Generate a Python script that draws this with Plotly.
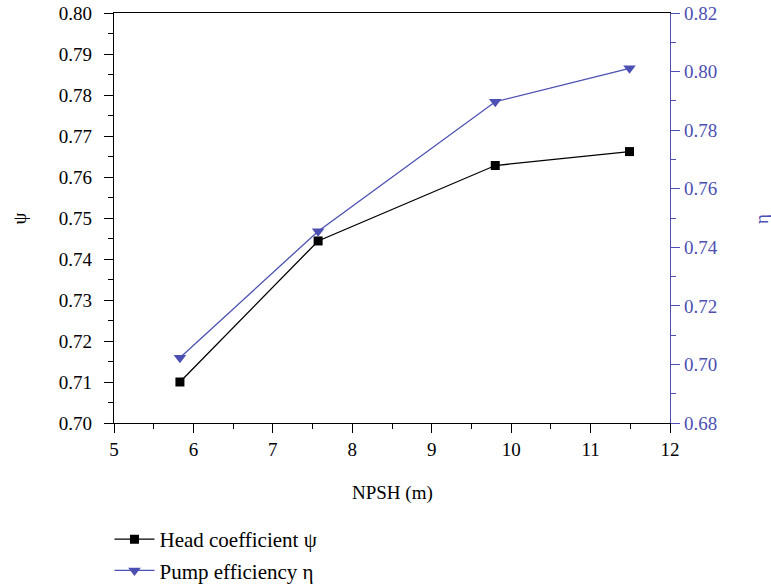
import plotly.graph_objects as go

npsh = [5.83, 7.57, 9.80, 11.49]
head_coeff = [0.7100, 0.7444, 0.7628, 0.7662]
pump_eff = [0.7023, 0.7455, 0.7897, 0.8011]

x_ticks = [5, 6, 7, 8, 9, 10, 11, 12]
left_ticks = [0.70, 0.71, 0.72, 0.73, 0.74, 0.75, 0.76, 0.77, 0.78, 0.79, 0.80]
right_ticks = [0.68, 0.70, 0.72, 0.74, 0.76, 0.78, 0.80, 0.82]

BLUE = "#4b50b2"
FONT = "Liberation Serif"
FS = 19

fig = go.Figure()
fig.add_trace(go.Scatter(
    x=npsh, y=head_coeff, mode="lines+markers", name="Head coefficient ψ",
    legendgroup="a",
    line=dict(color="black", width=1.3),
    marker=dict(symbol="square", size=9, color="black"),
))
fig.add_trace(go.Scatter(
    x=npsh, y=pump_eff, mode="lines+markers", name="Pump efficiency η",
    legendgroup="b",
    line=dict(color=BLUE, width=1.3),
    marker=dict(symbol="triangle-down", size=11, color=BLUE),
    yaxis="y2",
))

fig.update_layout(
    width=771, height=586,
    margin=dict(l=114, r=101, t=13, b=163, autoexpand=False),
    plot_bgcolor="white", paper_bgcolor="white",
    font=dict(family=FONT, size=FS, color="black"),
    showlegend=True,
    legend=dict(x=0.142, y=0.1143, xref="container", yref="container",
                xanchor="left", yanchor="top",
                font=dict(family=FONT, size=21), bgcolor="rgba(0,0,0,0)",
                tracegroupgap=1, itemwidth=40),
    xaxis=dict(
        range=[5, 12], tickvals=x_ticks, ticktext=[str(v) for v in x_ticks],
        showgrid=False, zeroline=False, ticklabeloverflow="allow",
        showline=True, linecolor="black", linewidth=1.3, mirror=True,
        ticks="outside", ticklen=9, tickwidth=1.3, tickcolor="black",
        minor=dict(ticks="outside", ticklen=5, dtick=0.5, tickcolor="black", tickwidth=1.3),
    ),
    yaxis=dict(
        range=[0.70, 0.80], tickvals=left_ticks, ticktext=[f"{v:.2f}" for v in left_ticks],
        showgrid=False, zeroline=False, ticklabeloverflow="allow",
        showline=True, linecolor="black", linewidth=1.3,
        ticks="outside", ticklen=9, tickwidth=1.3, tickcolor="black",
        ticklabelstandoff=8,
        minor=dict(ticks="outside", ticklen=5, dtick=0.005, tickcolor="black", tickwidth=1.3),
    ),
    yaxis2=dict(
        range=[0.68, 0.82], tickvals=right_ticks, ticktext=[f"{v:.2f}" for v in right_ticks],
        overlaying="y", side="right", ticklabeloverflow="allow",
        showgrid=False, zeroline=False,
        showline=True, linecolor=BLUE, linewidth=1.3,
        ticks="outside", ticklen=9, tickwidth=1.3, tickcolor=BLUE,
        tickfont=dict(color=BLUE, size=FS),
        minor=dict(ticks="outside", ticklen=5, dtick=0.01, tickcolor=BLUE, tickwidth=1.3),
    ),
    annotations=[
        dict(text="ψ", x=-0.170, y=0.50, xref="paper", yref="paper",
             showarrow=False, textangle=-90, font=dict(size=FS, color="black"),
             xanchor="center", yanchor="middle"),
        dict(text="η", x=1.1656, y=0.4976, xref="paper", yref="paper",
             showarrow=False, textangle=-90, font=dict(size=FS, color=BLUE),
             xanchor="center", yanchor="middle"),
        dict(text="NPSH (m)", x=0.50, y=-0.1707, xref="paper", yref="paper",
             showarrow=False, font=dict(size=FS, color="black"),
             xanchor="center", yanchor="middle"),
    ],
)

fig.write_html("out.html", config={"displayModeBar": False},
               post_script="document.body.style.margin='0';document.body.style.padding='0';")
